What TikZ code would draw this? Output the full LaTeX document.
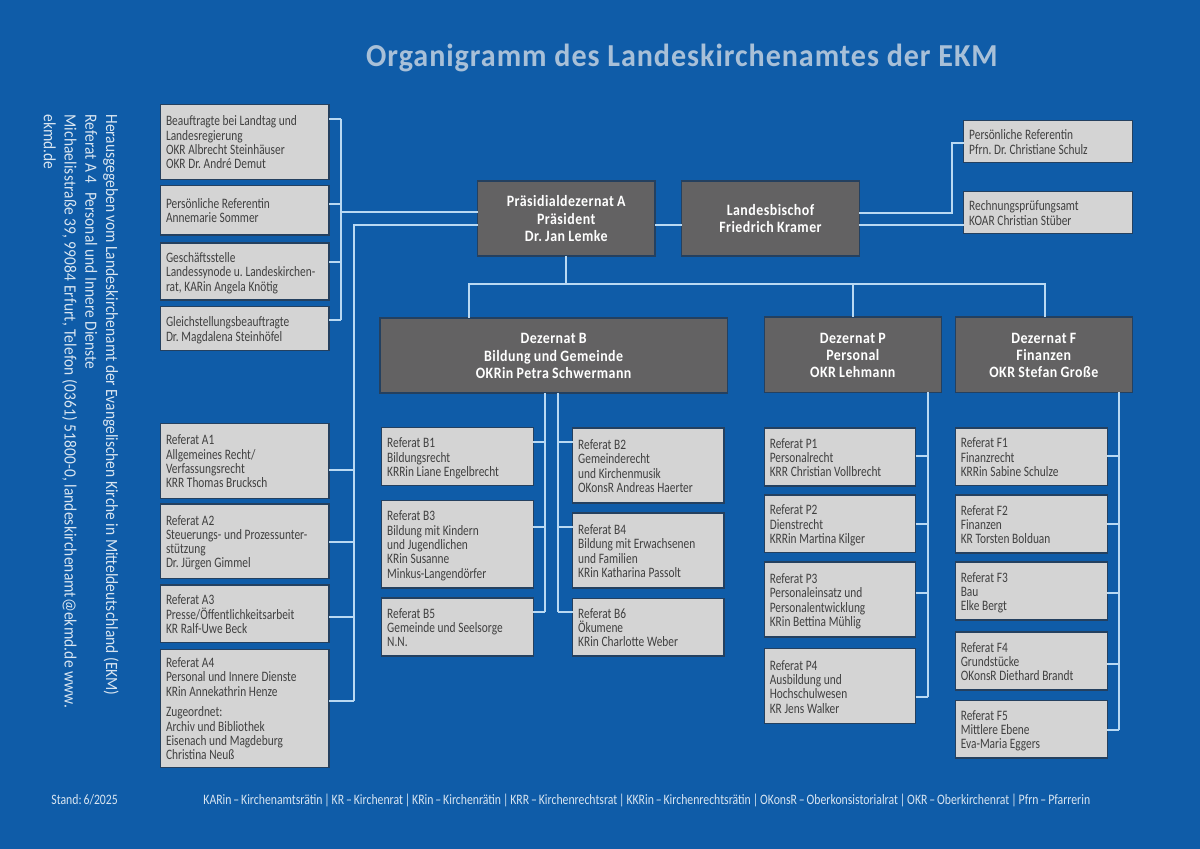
\documentclass[tikz,border=0pt]{standalone}
\usepackage{fontspec}
\setmainfont{Carlito}
\newfontfamily\boxfont[FakeStretch=0.79]{Carlito}
\newfontfamily\footfont[FakeStretch=0.815,WordSpace=0.72]{Carlito}
\newfontfamily\headfont[FakeStretch=0.88,LetterSpace=3,BoldFont={Carlito Bold}]{Carlito}
\newfontfamily\titlefont[LetterSpace=3,FakeStretch=0.94]{Carlito Bold}
\newfontfamily\sidefont[FakeStretch=0.90]{Carlito}
\frenchspacing
\definecolor{bgblue}{HTML}{0F5CA8}
\definecolor{boxgray}{HTML}{D4D4D4}
\definecolor{boxdark}{HTML}{636263}
\definecolor{edgeblue}{HTML}{24405F}
\definecolor{linkblue}{HTML}{B9D9F3}
\definecolor{titleblue}{HTML}{A8C0D8}
\definecolor{softwhite}{HTML}{D8E5F1}
\tikzset{
  lightbox/.style={draw=edgeblue,line width=0.6pt,fill=boxgray,inner sep=0pt,outer sep=0pt,align=left,text=black!75,
    font=\frenchspacing\boxfont\fontsize{7.2}{7.15}\selectfont},
  darkbox/.style={draw=edgeblue,line width=0.6pt,fill=boxdark,inner sep=0pt,outer sep=0pt,align=center,text=white,
    font=\frenchspacing\headfont\bfseries\fontsize{7.9}{8.55}\selectfont},
  conn/.style={draw=linkblue,line width=0.9pt,line join=miter},
  foot/.style={inner sep=0pt,text=softwhite,font=\frenchspacing\footfont\fontsize{7.2}{8}\selectfont}
}
% name, x0, y0, x1, y1, text (pixel coordinates of the reference)
\newcommand\lightnode[6]{%
  \pgfmathsetmacro\bw{(#4-#2)*0.5}\pgfmathsetmacro\bh{(#5-#3)*0.5}%
  \pgfmathsetmacro\tw{\bw-5.5}%
  \node[lightbox,text width=\tw pt,inner xsep=2.75pt,minimum height=\bh pt] (#1) at ({(#2+#4)/2},{(#3+#5)/2}) {\spaceskip=1.35pt\relax\rule{0pt}{6.9pt}#6\rule[-1.5pt]{0pt}{1.5pt}};}
\newcommand\darknode[6]{%
  \pgfmathsetmacro\bw{(#4-#2)*0.5}\pgfmathsetmacro\bh{(#5-#3)*0.5}%
  \node[darkbox,text width=\bw pt,minimum height=\bh pt] (#1) at ({(#2+#4)/2},{(#3+#5)/2}) {\spaceskip=1.6pt\relax\rule{0pt}{7.5pt}#6\rule[-1.9pt]{0pt}{1.9pt}};}
% stub from a box side to a spine: box, anchor, spine x, y
\newcommand\stub[4]{\coordinate (j) at (#3,#4);\draw[conn] (j -| #1.#2) -- (j);}
\begin{document}
\begin{tikzpicture}[x=0.5pt,y=-0.5pt]
\useasboundingbox (0,0) rectangle (1200,849);
\fill[bgblue] (0,0) rectangle (1200,849);

\node[inner sep=0pt,text=titleblue,font=\titlefont\fontsize{16}{18}\selectfont] (title) at (682,57.5) {Organigramm des Landeskirchenamtes der EKM};

\node[rotate=-90,anchor=north west,inner sep=0pt,align=left,text=softwhite,font=\sidefont\fontsize{8.6}{10.35}\selectfont] (side) at (119,114)
 {Herausgegeben vom Landeskirchenamt der Evangelischen Kirche in Mitteldeutschland (EKM)\\
  Referat A 4\hspace{2.6pt}\ Personal und Innere Dienste\\
  {\addfontfeature{LetterSpace=0.6}Michaelisstraße 39, 99084 Erfurt, Telefon (0361) 51800-0, landeskirchenamt@ekmd.de www.}\\
  ekmd.de};

% staff boxes, top left
\lightnode{s1}{160.5}{104.7}{329}{179.3}{Beauftragte bei Landtag und\\Landesregierung\\OKR Albrecht Steinhäuser\\OKR Dr. André Demut}
\lightnode{s2}{160.5}{185.7}{329}{235}{Persönliche Referentin\\Annemarie Sommer}
\lightnode{s3}{160.5}{243}{329}{300}{Geschäftsstelle\\Landessynode u. Landeskirchen-\\rat, KARin Angela Knötig}
\lightnode{s4}{160.5}{306.7}{329}{350.7}{Gleichstellungsbeauftragte\\Dr. Magdalena Steinhöfel}

% heads
\darknode{praes}{477.5}{181}{655}{256}{Präsidialdezernat A\\Präsident\\Dr. Jan Lemke}
\darknode{bischof}{681.7}{181}{859.3}{256}{Landesbischof\\Friedrich Kramer}
\lightnode{pr}{963.7}{120.7}{1132.3}{162.3}{Persönliche Referentin\\Pfrn. Dr. Christiane Schulz}
\lightnode{rpa}{963.7}{191.7}{1132.3}{233.7}{Rechnungsprüfungsamt\\KOAR Christian Stüber}
\darknode{dezb}{380}{318}{727.3}{393}{Dezernat B\\Bildung und Gemeinde\\OKRin Petra Schwermann}
\darknode{dezp}{764.3}{317}{941.3}{392.3}{Dezernat P\\Personal\\OKR Lehmann}
\darknode{dezf}{955.3}{317}{1132.3}{392.3}{Dezernat F\\Finanzen\\OKR Stefan Große}

% Referate A
\lightnode{a1}{160.5}{423.7}{329}{498.3}{Referat A1\\Allgemeines Recht/\\Verfassungsrecht\\KRR Thomas Brucksch}
\lightnode{a2}{160.5}{504}{329}{578.3}{Referat A2\\Steuerungs- und Prozessunter-\\stützung\\Dr. Jürgen Gimmel}
\lightnode{a3}{160.5}{585}{329}{642.7}{Referat A3\\Presse/Öffentlichkeitsarbeit\\KR Ralf-Uwe Beck}
\lightnode{a4}{160.5}{649.3}{329}{767.3}{Referat A4\\Personal und Innere Dienste\\KRin Annekathrin Henze\\[3.2pt]Zugeordnet:\\Archiv und Bibliothek\\Eisenach und Magdeburg\\Christina Neuß}

% Referate B
\lightnode{b1}{381.7}{427.7}{533.3}{485.7}{Referat B1\\Bildungsrecht\\KRRin Liane Engelbrecht}
\lightnode{b3}{381.7}{500.3}{533.3}{588}{Referat B3\\Bildung mit Kindern\\und Jugendlichen\\KRin Susanne\\Minkus-Langendörfer}
\lightnode{b5}{381.7}{598}{533.3}{656}{Referat B5\\Gemeinde und Seelsorge\\N.N.}
\lightnode{b2}{572.7}{428}{724}{503}{Referat B2\\Gemeinderecht\\und Kirchenmusik\\OKonsR Andreas Haerter}
\lightnode{b4}{572.7}{513}{724}{588}{Referat B4\\Bildung mit Erwachsenen\\und Familien\\KRin Katharina Passolt}
\lightnode{b6}{572.7}{598.3}{724}{656}{Referat B6\\Ökumene\\KRin Charlotte Weber}

% Referate P
\lightnode{p1}{764.3}{428}{915.7}{486}{Referat P1\\Personalrecht\\KRR Christian Vollbrecht}
\lightnode{p2}{764.3}{495}{915.7}{552.7}{Referat P2\\Dienstrecht\\KRRin Martina Kilger}
\lightnode{p3}{764.3}{562}{915.7}{637}{Referat P3\\Personaleinsatz und\\Personalentwicklung\\KRin Bettina Mühlig}
\lightnode{p4}{764.3}{648.7}{915.7}{723.7}{Referat P4\\Ausbildung und\\Hochschulwesen\\KR Jens Walker}

% Referate F
\lightnode{f1}{955.3}{428}{1107.3}{485.7}{Referat F1\\Finanzrecht\\KRRin Sabine Schulze}
\lightnode{f2}{955.3}{495}{1107.3}{553}{Referat F2\\Finanzen\\KR Torsten Bolduan}
\lightnode{f3}{955.3}{562}{1107.3}{620}{Referat F3\\Bau\\Elke Bergt}
\lightnode{f4}{955.3}{632}{1107.3}{690}{Referat F4\\Grundstücke\\OKonsR Diethard Brandt}
\lightnode{f5}{955.3}{700.3}{1107.3}{758}{Referat F5\\Mittlere Ebene\\Eva-Maria Eggers}

% connectors: staff left
\coordinate (sTop) at (341,118.7);
\coordinate (sBot) at (341,319.7);
\draw[conn] (sTop) -- (sBot);
\stub{s1}{east}{341}{118.7}
\stub{s2}{east}{341}{203.7}
\stub{s3}{east}{341}{262}
\stub{s4}{east}{341}{319.7}
\coordinate (sMid) at (341,212);
\draw[conn] (sMid) -- (sMid -| praes.west);
% Referate A trunk
\coordinate (aTop) at (354,225);
\coordinate (aBot) at (354,700.7);
\draw[conn] (aTop -| praes.west) -- (aTop) -- (aBot);
\stub{a1}{east}{354}{469.7}
\stub{a2}{east}{354}{542.3}
\stub{a3}{east}{354}{616.7}
\stub{a4}{east}{354}{700.7}
% Praesident - Bischof
\coordinate (mid) at (668,225);
\draw[conn] (mid -| praes.east) -- (mid -| bischof.west);
% Bischof right
\coordinate (k1) at (952.3,212.7);
\coordinate (k2) at (952.3,142.7);
\draw[conn] (k1 -| bischof.east) -- (k1) -- (k2) -- (k2 -| pr.west);
\coordinate (k3) at (900,225);
\draw[conn] (k3 -| bischof.east) -- (k3 -| rpa.west);
% Dezernat bus
\coordinate (bus) at (566.3,283.7);
\coordinate (busB) at (469.3,283.7);
\coordinate (busP) at (852.7,283.7);
\coordinate (busF) at (1044.7,283.7);
\draw[conn] (bus |- praes.south) -- (bus);
\draw[conn] (busB |- dezb.north) -- (busB) -- (busF) -- (busF |- dezf.north);
\draw[conn] (busP) -- (busP |- dezp.north);
% Dezernat B trunks
\coordinate (bl) at (545,612.3);
\coordinate (br) at (558.3,612.3);
\draw[conn] (bl |- dezb.south) -- (bl);
\draw[conn] (br |- dezb.south) -- (br);
\stub{b1}{east}{545}{442}
\stub{b3}{east}{545}{527}
\stub{b5}{east}{545}{612.3}
\stub{b2}{west}{558.3}{441.7}
\stub{b4}{west}{558.3}{526.7}
\stub{b6}{west}{558.3}{612.3}
% Dezernat P trunk
\coordinate (pt) at (928.3,697);
\draw[conn] (pt |- dezp.south) -- (pt);
\stub{p1}{east}{928.3}{455.7}
\stub{p2}{east}{928.3}{523.7}
\stub{p3}{east}{928.3}{592.7}
\stub{p4}{east}{928.3}{697}
% Dezernat F trunk
\coordinate (ft) at (1119.3,730);
\draw[conn] (ft |- dezf.south) -- (ft);
\stub{f1}{east}{1119.3}{455.7}
\stub{f2}{east}{1119.3}{523.7}
\stub{f3}{east}{1119.3}{592.7}
\stub{f4}{east}{1119.3}{664.3}
\stub{f5}{east}{1119.3}{730}

% footer
\node[foot,anchor=west] (stand) at (51,800) {Stand: 6/2025};
\node[foot,anchor=west] (legend) at (203,800) {KARin – Kirchenamtsrätin | KR – Kirchenrat | KRin – Kirchenrätin | KRR – Kirchenrechtsrat | KKRin – Kirchenrechtsrätin | OKonsR – Oberkonsistorialrat | OKR – Oberkirchenrat | Pfrn – Pfarrerin};
\end{tikzpicture}
\end{document}
